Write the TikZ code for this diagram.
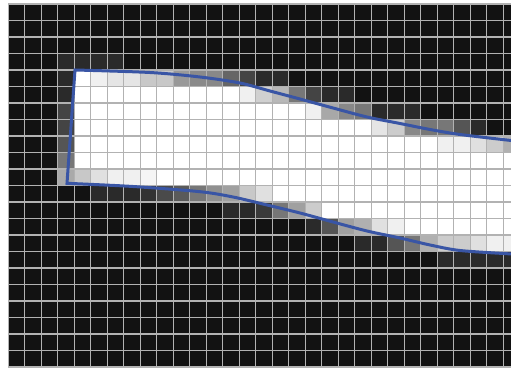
\documentclass[tikz,border=0pt]{standalone}
\usepackage{tikz}

\definecolor{pixdark}{HTML}{121212}
\definecolor{gridgray}{HTML}{B2B2B2}
\definecolor{edgeblue}{HTML}{3955A5}

\begin{document}
\begin{tikzpicture}[x=16.5pt, y=-16.5pt,
    gridrule/.style={draw=gridgray, line width=1.1pt},
    edgeline/.style={draw=edgeblue, line width=3pt, line join=miter}]
    \useasboundingbox (-0.503,-0.2424) rectangle (30.467,22.06);
    \fill[white] (-0.503,-0.2424) rectangle (30.467,22.06);
    \clip (-0.503,-0.2424) rectangle (30.467,22.06);

    % dark background pixels
    \fill[pixdark] (0,0) rectangle (31,22);

    % fully covered pixels, row/first/last
    \foreach \j/\a/\b in {4/4/4, 5/4/13, 6/4/17, 7/4/21, 8/4/25, 9/4/30,
                          10/9/30, 11/16/30, 12/19/30, 13/24/30}
        \fill[white] (\a,\j) rectangle (\b+1,\j+1);

    % partly covered pixels, col/row/grey level
    \foreach \i/\j/\g in {3/3/42, 4/3/42, 5/3/42, 6/3/42,
        3/4/42, 5/4/240, 6/4/229, 7/4/229, 8/4/200, 9/4/200, 10/4/153, 11/4/138,
        12/4/136, 13/4/102, 14/4/68, 15/4/42, 16/4/42,
        3/5/42, 14/5/240, 15/5/208, 16/5/184, 17/5/119, 18/5/68, 19/5/42, 20/5/42,
        3/6/68, 18/6/240, 19/6/168, 20/6/136, 21/6/119, 22/6/42, 23/6/42, 24/6/42,
        3/7/68, 22/7/229, 23/7/204, 24/7/136, 25/7/119, 26/7/119, 27/7/85, 28/7/42,
        3/8/85, 26/8/240, 27/8/240, 28/8/224, 29/8/204, 30/8/176,
        3/9/119,
        3/10/170, 4/10/200, 5/10/224, 6/10/240, 7/10/240, 8/10/245,
        5/11/42, 6/11/42, 7/11/42, 8/11/51, 9/11/74, 10/11/90, 11/11/119,
        12/11/144, 13/11/160, 14/11/200, 15/11/224,
        13/12/42, 14/12/42, 15/12/58, 16/12/119, 17/12/160, 18/12/204,
        18/13/42, 19/13/85, 20/13/160, 21/13/176, 22/13/224, 23/13/240,
        21/14/42, 22/14/42, 23/14/85, 24/14/119, 25/14/176, 26/14/204,
        27/14/204, 28/14/224, 29/14/240, 30/14/240,
        26/15/42, 27/15/42, 28/15/42, 29/15/42, 30/15/42}
        \fill[fill={rgb,255:red,\g;green,\g;blue,\g}] (\i,\j) rectangle (\i+1,\j+1);

    % pixel grid
    \foreach \i in {0,...,31}
        \draw[gridrule] (\i,0) -- (\i,22);
    \foreach \j in {0,...,22}
        \draw[gridrule] (0,\j) -- (31,\j);

    % outline of the shape
    \draw[edgeline] plot[smooth] coordinates {(31,8.33) (30.47,8.273)
        (27.38,7.909) (25.56,7.606) (23.74,7.242) (21.74,6.848) (19.68,6.303)
        (17.68,5.758) (15.86,5.273) (14.042,4.788) (11.618,4.424)
        (8.588,4.152) (4.042,4.0)}
        -- plot[smooth] coordinates {(3.558,10.867) (7.558,11.061)
        (11.618,11.376) (13.618,11.697) (15.68,12.182) (17.68,12.667)
        (19.68,13.212) (21.74,13.758) (23.74,14.182) (25.56,14.606)
        (27.38,14.94) (30.47,15.15) (31,15.18)};
\end{tikzpicture}
\end{document}
